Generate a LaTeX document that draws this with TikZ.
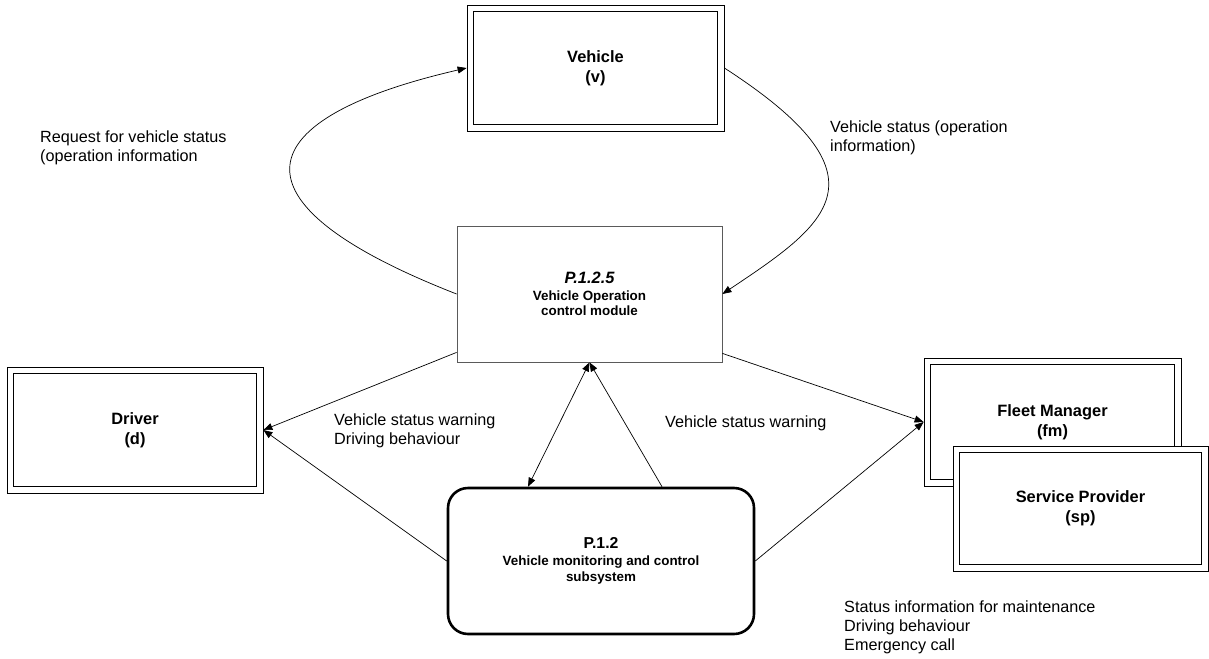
\documentclass[tikz,border=0pt]{standalone}
\usepackage{fontspec}
\setmainfont{Liberation Sans}
\usepackage{tikz}
\usetikzlibrary{arrows.meta,positioning,calc}
\definecolor{boxgray}{RGB}{90, 90, 90}

\begin{document}
\begin{tikzpicture}[x=1pt,y=-1pt,
    >={Triangle[length=9pt,width=7pt]},
    extbox/.style={draw,line width=0.8pt,fill=white,
      minimum width=257pt,minimum height=126pt,align=center,
      font=\fontsize{16.4}{20}\selectfont\bfseries,
      path picture={\draw[line width=0.8pt]
        ([xshift=6.5pt,yshift=6.5pt]path picture bounding box.south west) rectangle
        ([xshift=-6.5pt,yshift=-6.5pt]path picture bounding box.north east);}},
    procbox/.style={draw=boxgray,line width=0.8pt,minimum width=265pt,minimum height=136pt,
      align=center,font=\fontsize{13.4}{15.5}\selectfont\bfseries},
    subbox/.style={draw,line width=2.6pt,rounded corners=20pt,minimum width=306pt,minimum height=146pt,
      align=center,font=\fontsize{13.4}{16}\selectfont\bfseries},
    flow/.style={->,line width=0.7pt},
    lbl/.style={anchor=north west,inner sep=0pt,align=left,font=\fontsize{16.2}{19}\selectfont}]
    \useasboundingbox (0,0) rectangle (1209,658);
    % boxes
    \node[extbox] (veh) at (595.5,68) {Vehicle\\(v)};
    \node[procbox] (ocm) at (589.5,294) {{\fontsize{16.4}{17}\selectfont\itshape P.1.2.5}\\[1pt]Vehicle Operation\\control module};
    \node[extbox,minimum width=256pt] (drv) at (135,430) {Driver\\(d)};
    \node[extbox,minimum height=128pt] (fm) at (1052.5,422) {Fleet Manager\\(fm)};
    \node[extbox,minimum width=255pt,minimum height=125pt] (sp) at (1080.5,508.5) {Service Provider\\(sp)};
    \node[subbox] (sub) at (601,561) {{\fontsize{15.8}{17}\selectfont P.1.2}\\[1pt]Vehicle monitoring and control\\subsystem};
    % flows
    \draw[flow] (ocm.west) .. controls +(-238,-93) and +(-217,50) .. (veh.west);
    \draw[flow] (veh.east) .. controls +(170,110) and +(105,-70) .. (ocm.east);
    \draw[flow] ([yshift=10pt]ocm.south west) -- (drv.east);
    \draw[flow] (sub.west) -- (drv.east);
    \draw[flow] ([yshift=9pt]ocm.south east) -- (fm.west);
    \draw[flow] (sub.east) -- (fm.west);
    \draw[flow,<->] (ocm.south) -- ([xshift=-73pt]sub.north);
    \draw[flow] ([xshift=61pt]sub.north) -- (ocm.south);
    % labels
    \node[lbl] (lreq) at (40,131) {Request for vehicle status\\(operation information};
    \node[lbl] (lvst) at (830,121) {Vehicle status (operation\\information)};
    \node[lbl] (ldrv) at (334,414) {Vehicle status warning\\Driving behaviour};
    \node[lbl] (lfm) at (665,416) {Vehicle status warning};
    \node[lbl] (lsp) at (844,601) {Status information for maintenance\\Driving behaviour\\Emergency call};
\end{tikzpicture}
\end{document}
